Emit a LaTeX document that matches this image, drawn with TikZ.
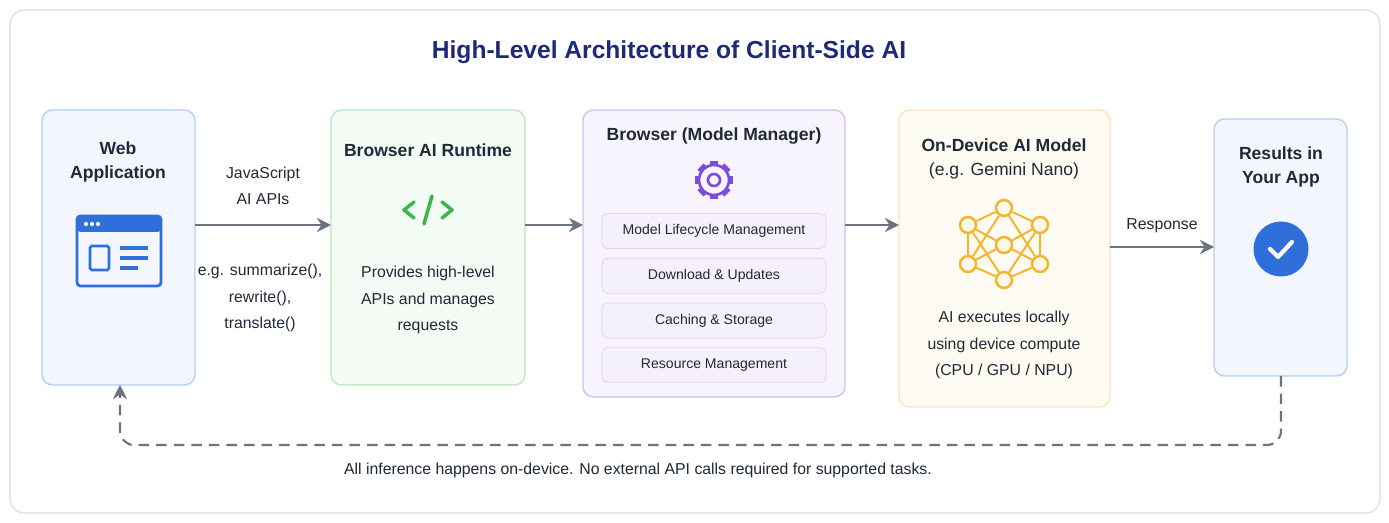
\documentclass[tikz,border=0pt]{standalone}
\usepackage{fontspec}
\setmainfont{Liberation Sans}
\usetikzlibrary{arrows.meta,positioning}
\definecolor{ink}{HTML}{1F2937}
\definecolor{titleblue}{HTML}{1E2A78}
\definecolor{arrowgray}{HTML}{6B7280}
\definecolor{iconblue}{HTML}{2F6FDB}
\definecolor{codegreen}{HTML}{3CB54A}
\definecolor{gearpurple}{HTML}{7C4DDB}
\definecolor{netyellow}{HTML}{F2B52C}
\tikzset{
  box/.style={draw=#1!35, fill=#1!6, rounded corners=6pt, line width=0.8pt},
  item/.style={draw=gearpurple!25, fill=gearpurple!8, rounded corners=3pt, minimum width=224*0.02cm, minimum height=35*0.02cm, font=\fontsize{8}{10}\selectfont, text=ink},
  head/.style={font=\bfseries\fontsize{10}{14}\selectfont, text=ink, align=center},
  body/.style={font=\fontsize{9}{15}\selectfont, text=ink, align=center},
  flow/.style={-{Stealth[length=8pt,width=8pt]}, draw=arrowgray, line width=1.4pt},
  neuron/.style={circle, draw=netyellow, line width=1.4pt, fill=netyellow!10, inner sep=0pt, minimum size=16*0.02cm}
}
\begin{document}
\begin{tikzpicture}[x=0.02cm,y=-0.02cm]
   \useasboundingbox (0,0) rectangle (1389,523);
   \draw[draw=black!15, rounded corners=8pt, line width=0.6pt] (10,10) rectangle (1380,513);
   \node[font=\bfseries\fontsize{14}{16}\selectfont, text=titleblue] (title) at (669,52) {High-Level Architecture of Client-Side AI};

   % boxes
   \draw[box=iconblue] (42,110) rectangle (195,385);
   \draw[box=codegreen] (331,110) rectangle (525,385);
   \draw[box=gearpurple] (583,110) rectangle (845,397);
   \draw[box=netyellow] (899,110) rectangle (1110,407);
   \draw[box=iconblue] (1214,119) rectangle (1347,376);

   % anchors for the arrows
   \coordinate (webR) at (195,225);
   \coordinate (rtL) at (331,225);
   \coordinate (rtR) at (525,225);
   \coordinate (bmL) at (583,225);
   \coordinate (bmR) at (845,225);
   \coordinate (mdL) at (899,225);
   \coordinate (mdR) at (1110,247);
   \coordinate (resL) at (1214,247);
   \coordinate (resB) at (1281,376);
   \coordinate (webB) at (120,385);

   % web application
   \node[head] (webT) at (118,162) {Web\\Application};
   \draw[iconblue, line width=1.6pt, rounded corners=2pt] (77,216) rectangle (161,286);
   \fill[iconblue, rounded corners=2pt] (77,216) rectangle (161,232);
   \foreach \i in {0,1,2} \fill[white] (86+\i*6,224) circle (1.2pt);
   \draw[iconblue, line width=1.6pt, rounded corners=1pt] (90,246) rectangle (109,270);
   \draw[iconblue, line width=1.8pt] (120,248) -- (148,248) (120,258) -- (148,258) (120,268) -- (138,268);

   % runtime
   \node[head] (rtT) at (428,150) {Browser AI Runtime};
   \coordinate (code) at (428,210);
   \draw[codegreen, line width=2pt, line cap=round, line join=round]
     ([shift={(-14,-8)}]code) -- ([shift={(-24,0)}]code) -- ([shift={(-14,8)}]code)
     ([shift={(14,-8)}]code) -- ([shift={(24,0)}]code) -- ([shift={(14,8)}]code)
     ([shift={(4,-14)}]code) -- ([shift={(-4,14)}]code);
   \node[body] (rtB) at (428,300) {Provides high-level\\APIs and manages\\requests};

   % model manager
   \node[head] (bmT) at (714,136) {Browser (Model Manager)};
   \coordinate (gear) at (714,180);
   \foreach \a in {0,45,...,315}
     \draw[gearpurple, line width=5pt] (gear) ++(\a:14) -- ++(\a:5);
   \draw[gearpurple, line width=1.5pt, fill=gearpurple!6] (gear) circle (15);
   \draw[gearpurple, line width=1.5pt] (gear) circle (6);
   \node[item] (i1) at (714,231) {Model Lifecycle Management};
   \node[item, below=9*0.02cm of i1] (i2) {Download \& Updates};
   \node[item, below=9*0.02cm of i2] (i3) {Caching \& Storage};
   \node[item, below=9*0.02cm of i3] (i4) {Resource Management};

   % on-device model
   \node[head] (mdT) at (1004,159) {On-Device AI Model\\{\mdseries (e.g. Gemini Nano)}};
   \node[neuron] (n1) at (1004,208) {};
   \node[neuron] (n2) at (968,225) {};
   \node[neuron] (n3) at (1040,225) {};
   \node[neuron] (n4) at (1004,245) {};
   \node[neuron] (n5) at (968,264) {};
   \node[neuron] (n6) at (1040,264) {};
   \node[neuron] (n7) at (1004,280) {};
   \foreach \a/\b in {n1/n2,n1/n3,n1/n5,n1/n6,n7/n2,n7/n3,n7/n5,n7/n6,n4/n2,n4/n3,n4/n5,n4/n6,n2/n5,n3/n6}
     \draw[netyellow, line width=1.1pt] (\a) -- (\b);
   \node[body] (mdB) at (1004,345) {AI executes locally\\using device compute\\(CPU / GPU / NPU)};

   % results
   \node[head] (resT) at (1281,167) {Results in\\Your App};
   \node[circle, fill=iconblue, minimum size=55*0.02cm] (check) at (1281,249) {};
   \draw[white, line width=2.4pt, line cap=round, line join=round] ([shift={(-11,0)}]check.center) -- ([shift={(-3,8)}]check.center) -- ([shift={(11,-7)}]check.center);

   % arrows
   \draw[flow] (webR) -- (rtL);
   \node[body] (jsapi) at (263,186) {JavaScript\\AI APIs};
   \node[body] (calls) at (260,298) {e.g. summarize(),\\rewrite(),\\translate()};
   \draw[flow] (rtR) -- (bmL);
   \draw[flow] (bmR) -- (mdL);
   \draw[flow] (mdR) -- (resL);
   \node[body] (resp) at (1162,226) {Response};
   \draw[-{Stealth[length=8pt,width=8pt]}, draw=arrowgray, line width=1.2pt, dashed, dash pattern=on 6pt off 4pt, rounded corners=8pt]
     (resB) -- (1281,445) -- (120,445) -- (webB);
   \node[body] (foot) at (638,470) {All inference happens on-device. No external API calls required for supported tasks.};
\end{tikzpicture}
\end{document}
